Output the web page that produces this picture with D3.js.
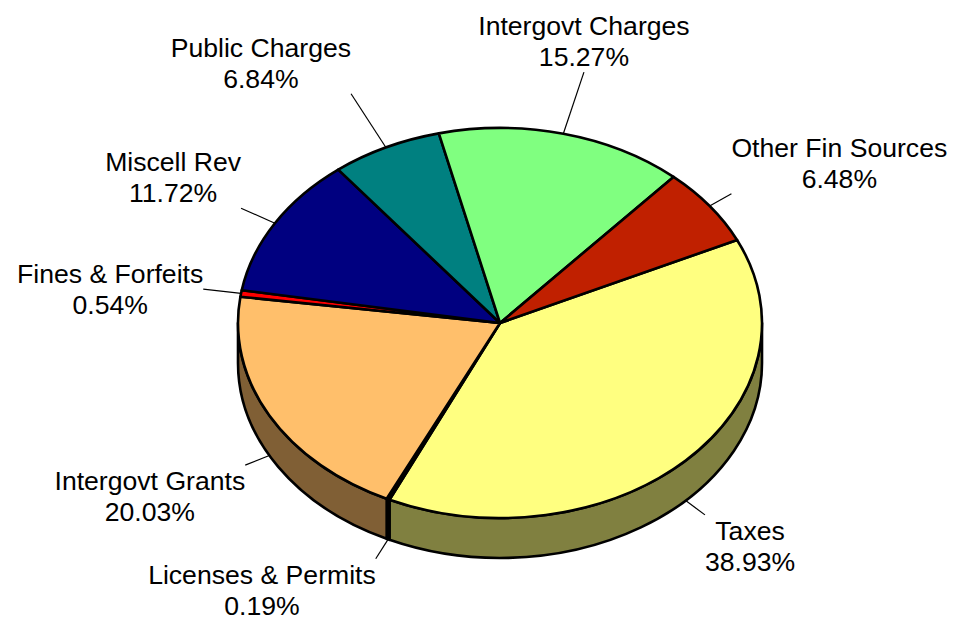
<!DOCTYPE html>
<html>
<head>
<meta charset="utf-8">
<script src="https://cdn.jsdelivr.net/npm/d3@7"></script>
<style>
  html, body { margin: 0; padding: 0; background: #ffffff; }
  svg { display: block; }
  text { font-family: "Liberation Sans", Arial, Helvetica, sans-serif; fill: #000; }
</style>
</head>
<body>
<svg id="chart" width="973" height="623"></svg>
<script>
// Revenue sources, share of total (%)
const categories = ["Taxes", "Licenses & Permits", "Intergovt Grants", "Fines & Forfeits",
                    "Miscell Rev", "Public Charges", "Intergovt Charges", "Other Fin Sources"];
const shares = [38.93, 0.19, 20.03, 0.54, 11.72, 6.84, 15.27, 6.48];

// Presentation settings
const topColors  = ["#FFFF80", "#000000", "#FFBF6B", "#FF0000", "#000080", "#008080", "#80FF80", "#C02000"];
const sideColors = ["#808040", "#000000", "#805F35", "#800000", "#000040", "#004040", "#408040", "#601000"];
const leaderLengths = [24, 23, 26, 38, 37, 64, 65, 25];

const W = 973, H = 623;
const cx = 500, cy = 323, rx = 262, ry = 195, depth = 40;
const fontSize = 26.6, lineH = 31;
const startAngle = 64.8 * Math.PI / 180;

const svg = d3.select("#chart");

const pie = d3.pie().sort(null).value(d => d.v)
  .startAngle(startAngle).endAngle(startAngle + 2 * Math.PI);
const data = categories.map((c, i) => ({ name: c, v: shares[i], i }));
const arcs = pie(data);

// point on the projected (tilted) circle; angle clockwise from 12 o'clock
const pt = (a, dy = 0) => [cx + rx * Math.sin(a), cy - ry * Math.cos(a) + dy];

// side walls (front half only, drawn first)
const frontLo = Math.PI / 2, frontHi = 3 * Math.PI / 2;
const sideG = svg.append("g");
arcs.forEach(d => {
  const s0 = Math.max(d.startAngle, frontLo), s1 = Math.min(d.endAngle, frontHi);
  if (s1 <= s0) return;
  const [x0, y0] = pt(s0), [x1, y1] = pt(s1);
  const large = (s1 - s0) > Math.PI ? 1 : 0;
  const p = `M${x0},${y0} A${rx},${ry} 0 ${large} 1 ${x1},${y1}` +
            ` L${x1},${y1 + depth} A${rx},${ry} 0 ${large} 0 ${x0},${y0 + depth} Z`;
  sideG.append("path").attr("d", p)
    .attr("fill", sideColors[d.data.i])
    .attr("stroke", "#000").attr("stroke-width", 2.6).attr("stroke-linejoin", "round");
});

// top faces
const topG = svg.append("g");
arcs.forEach(d => {
  const [x0, y0] = pt(d.startAngle), [x1, y1] = pt(d.endAngle);
  const large = (d.endAngle - d.startAngle) > Math.PI ? 1 : 0;
  const p = `M${cx},${cy} L${x0},${y0} A${rx},${ry} 0 ${large} 1 ${x1},${y1} Z`;
  topG.append("path").attr("d", p)
    .attr("fill", topColors[d.data.i])
    .attr("stroke", "#000").attr("stroke-width", 2.6).attr("stroke-linejoin", "round");
});

// leader lines and labels
const labelG = svg.append("g");
arcs.forEach(d => {
  const i = d.data.i;
  const mid = (d.startAngle + d.endAngle) / 2;
  const front = -Math.cos(mid) > 0;
  const [ax, ay] = pt(mid, front ? depth : 0);
  let ux = rx * Math.sin(mid), uy = -ry * Math.cos(mid);
  const n = Math.hypot(ux, uy); ux /= n; uy /= n;
  const ex = ax + ux * leaderLengths[i], ey = ay + uy * leaderLengths[i];
  labelG.append("line")
    .attr("x1", ax).attr("y1", ay).attr("x2", ex).attr("y2", ey)
    .attr("stroke", "#000").attr("stroke-width", 1.2);

  const lines = [d.data.name, d.data.v.toFixed(2) + "%"];
  const t = labelG.append("text").attr("font-size", fontSize).attr("text-anchor", "middle");
  const spans = lines.map(s => t.append("tspan").text(s));
  const w = d3.max(spans, s => s.node().getComputedTextLength());
  const h = lineH * lines.length;

  let left;
  if (Math.abs(uy) > 0.9) left = ex - w / 2;
  else left = ux > 0 ? ex : ex - w;
  let top;
  if (uy < -0.3) top = ey - h;
  else if (uy > 0.3) top = ey;
  else top = ey - h / 2;

  spans.forEach((s, k) => {
    s.attr("x", left + w / 2).attr("y", top + lineH * k + lineH / 2 + 0.36 * fontSize);
  });
});
</script>
</body>
</html>
